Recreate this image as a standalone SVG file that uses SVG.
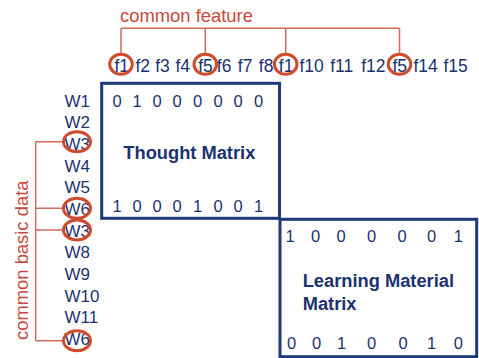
<svg xmlns="http://www.w3.org/2000/svg" width="479" height="358" viewBox="0 0 479 358">
<style>
.t{font-family:"Liberation Sans",Arial,sans-serif;fill:#1b3270;}
.f{font-size:17.5px;}
.w{font-size:17px;}
.d{font-size:16.5px;text-anchor:middle;}
.b{font-size:18.3px;font-weight:bold;}
.r{font-family:"Liberation Sans",Arial,sans-serif;font-size:18.4px;fill:#c9483d;}
.box{fill:none;stroke:#1d3978;stroke-width:3;}
.ring{fill:none;stroke:#cf4b2d;stroke-width:3;}
.ln{fill:none;stroke:#cf6a5c;stroke-width:1.5;}
</style>
<rect width="479" height="358" fill="#ffffff"/>
<g id="connectors">
<path class="ln" d="M121 28.3H399.5M121 28.3V54.3M205.3 28.3V54.3M285.7 28.3V54.3M399.5 28.3V54.3"/>
<path class="ln" d="M35.7 141.7V340.7M35.7 141.7H63.5M35.7 208.3H63.5M35.7 230H63.5M35.7 340.7H63.5"/>
</g>
<g id="common-feature-label"><text class="r" x="120" y="21.7">common feature</text></g>
<g id="common-basic-data-label"><text class="r" transform="translate(28.3 340) rotate(-90)">common basic data</text></g>
<g id="features" class="t f">
<text x="114.5" y="72.3">f1</text>
<text x="135.5" y="72.3">f2</text>
<text x="155.2" y="72.3">f3</text>
<text x="175.5" y="72.3">f4</text>
<text x="198.2" y="72.3">f5</text>
<text x="216.8" y="72.3">f6</text>
<text x="237.8" y="72.3">f7</text>
<text x="258.8" y="72.3">f8</text>
<text x="278.8" y="72.3">f1</text>
<text x="299.5" y="72.3">f10</text>
<text x="330.2" y="72.3">f11</text>
<text x="361.2" y="72.3">f12</text>
<text x="392.5" y="72.3">f5</text>
<text x="413.5" y="72.3">f14</text>
<text x="443.5" y="72.3">f15</text>
</g>
<g id="feature-rings">
<ellipse class="ring" cx="121" cy="64.3" rx="11.3" ry="10"/>
<ellipse class="ring" cx="205.3" cy="64.3" rx="11.3" ry="10"/>
<ellipse class="ring" cx="285.7" cy="64.3" rx="11.3" ry="10"/>
<ellipse class="ring" cx="399.5" cy="64.3" rx="11.3" ry="10"/>
</g>
<g id="words" class="t w">
<text x="64.5" y="106.7">W1</text>
<text x="64.5" y="128.4">W2</text>
<text x="64.5" y="150">W3</text>
<text x="64.5" y="171.7">W4</text>
<text x="64.5" y="193.3">W5</text>
<text x="64.5" y="215">W6</text>
<text x="64.5" y="236.7">W3</text>
<text x="64.5" y="258.3">W8</text>
<text x="64.5" y="280">W9</text>
<text x="64.5" y="301.6">W10</text>
<text x="64.5" y="323.3">W11</text>
<text x="64.5" y="345">W6</text>
</g>
<g id="word-rings">
<ellipse class="ring" cx="77" cy="141.7" rx="13.5" ry="10"/>
<ellipse class="ring" cx="77" cy="208.3" rx="13.5" ry="10"/>
<ellipse class="ring" cx="77" cy="230" rx="13.5" ry="10"/>
<ellipse class="ring" cx="77" cy="340.7" rx="13.5" ry="10"/>
</g>
<g id="thought-matrix">
<rect class="box" x="101.7" y="83.3" width="177.8" height="135"/>
<g class="t d">
<text x="117" y="106.7">0</text><text x="137" y="106.7">1</text><text x="157" y="106.7">0</text><text x="177" y="106.7">0</text><text x="197.5" y="106.7">0</text><text x="218" y="106.7">0</text><text x="238" y="106.7">0</text><text x="258.5" y="106.7">0</text>
<text x="117" y="212.3">1</text><text x="137" y="212.3">0</text><text x="157" y="212.3">0</text><text x="177" y="212.3">0</text><text x="197.5" y="212.3">1</text><text x="218" y="212.3">0</text><text x="238" y="212.3">0</text><text x="258.5" y="212.3">1</text>
</g>
<text class="t b" x="123.3" y="159">Thought Matrix</text>
</g>
<g id="learning-material-matrix">
<rect class="box" x="280" y="219.3" width="196.7" height="137.4"/>
<g class="t d">
<text x="290" y="242.3">1</text><text x="315.5" y="242.3">0</text><text x="341" y="242.3">0</text><text x="371.7" y="242.3">0</text><text x="402" y="242.3">0</text><text x="431.7" y="242.3">0</text><text x="458.3" y="242.3">1</text>
<text x="291.5" y="349.3">0</text><text x="316.5" y="349.3">0</text><text x="341.7" y="349.3">1</text><text x="371.7" y="349.3">0</text><text x="403" y="349.3">0</text><text x="431.7" y="349.3">1</text><text x="458.3" y="349.3">0</text>
</g>
<text class="t b" x="302.7" y="287.3">Learning Material</text>
<text class="t b" x="302.7" y="310">Matrix</text>
</g>
</svg>
